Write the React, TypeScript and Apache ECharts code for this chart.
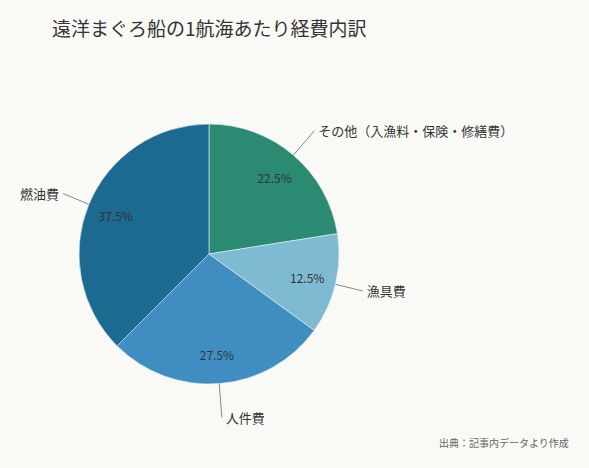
import React, { useEffect, useRef } from 'react'
import * as echarts from 'echarts'

const categories = ['その他（入漁料・保険・修繕費）', '漁具費', '人件費', '燃油費']
const shares = [22.5, 12.5, 27.5, 37.5]
const colors = ['#2b8a72', '#7fbad3', '#408ec1', '#1c6a92']

const FONT = '"Noto Sans CJK JP", "Noto Sans", sans-serif'

// label line lengths per slice (outer labels)
const lineLength: Record<string, number> = { 'その他（入漁料・保険・修繕費）': 50, 人件費: 52 }

const App: React.FC = () => {
    const chartRef = useRef<HTMLDivElement | null>(null)

    useEffect(() => {
        document.body.style.margin = '0'
        if (!chartRef.current) return
        const chart = echarts.init(chartRef.current, undefined, { renderer: 'svg' })

        const data = categories.map((name, i) => ({
            name,
            value: shares[i],
            itemStyle: { color: colors[i] },
        }))
        const ghost = categories.map((name, i) => ({ name, value: shares[i] }))
        const outer = ghost.map((d) => ({
            ...d,
            labelLine: { length: lineLength[d.name] ?? 46 },
        }))

        chart.setOption({
            animation: false,
            backgroundColor: '#f9f9f5',
            textStyle: { fontFamily: FONT },
            title: {
                text: '遠洋まぐろ船の1航海あたり経費内訳',
                left: 52,
                top: 18,
                padding: 0,
                textStyle: { fontSize: 19, fontWeight: 'normal', color: '#333', fontFamily: FONT },
            },
            graphic: [
                {
                    type: 'text',
                    right: 20,
                    top: 437,
                    style: { text: '出典：記事内データより作成', fill: '#666', font: `10px ${FONT}` },
                },
            ],
            series: [
                {
                    // main slices
                    type: 'pie',
                    center: [209, 254],
                    radius: 130,
                    startAngle: 90,
                    silent: true,
                    label: { show: false },
                    labelLine: { show: false },
                    itemStyle: { borderColor: '#e8f0f2', borderWidth: 0.6 },
                    data,
                },
                {
                    // percent labels inside
                    type: 'pie',
                    center: [209, 254],
                    radius: [66, 130],
                    startAngle: 90,
                    silent: true,
                    itemStyle: { color: 'transparent' },
                    label: {
                        show: true,
                        position: 'inside',
                        formatter: (p: any) => p.value.toFixed(1) + '%',
                        fontSize: 12,
                        color: '#333',
                        fontFamily: FONT,
                    },
                    labelLine: { show: false },
                    data: ghost,
                },
                {
                    // category labels outside
                    type: 'pie',
                    center: [209, 254],
                    radius: 112,
                    startAngle: 90,
                    silent: true,
                    itemStyle: { color: 'transparent' },
                    label: {
                        show: true,
                        position: 'outside',
                        fontSize: 13,
                        color: '#333',
                        fontFamily: FONT,
                        distanceToLabelLine: 4,
                    },
                    labelLine: {
                        show: true,
                        length: 46,
                        length2: 0,
                        lineStyle: { color: '#888', width: 1 },
                    },
                    data: outer,
                },
            ],
        })

        return () => {
            chart.dispose()
        }
    }, [])

    return <div ref={chartRef} style={{ width: '589px', height: '468px' }} />
}

export default App
